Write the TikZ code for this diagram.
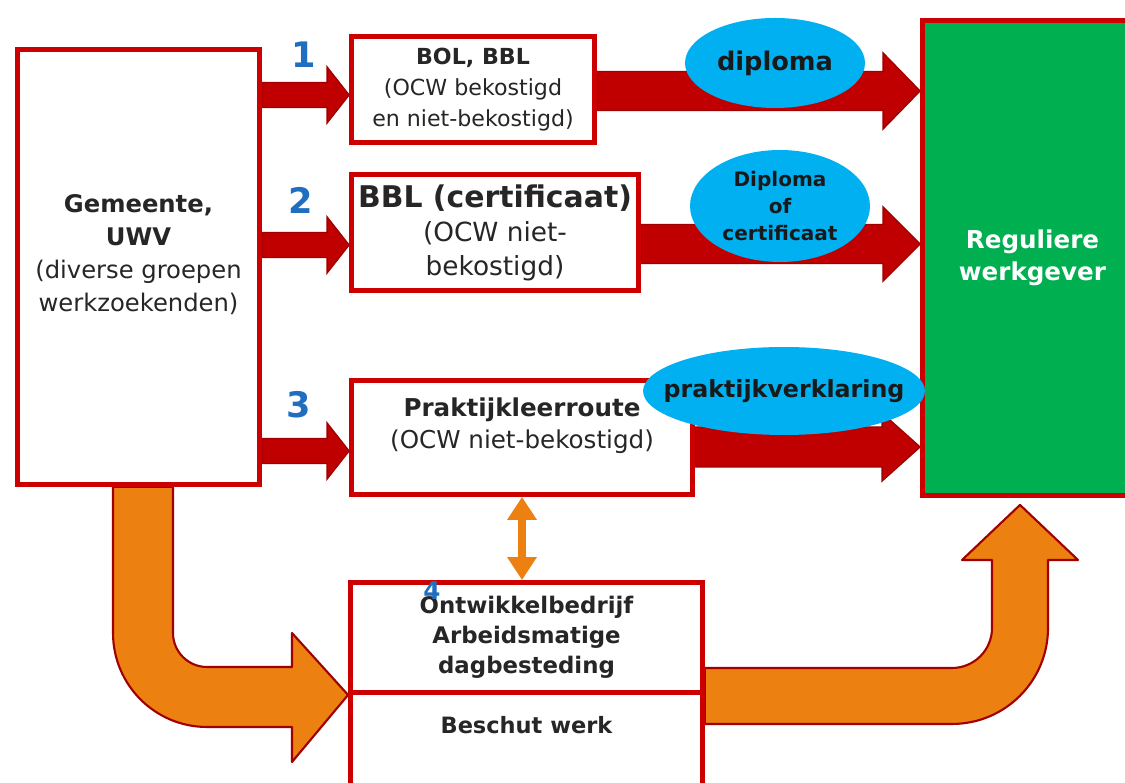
\documentclass[tikz,border=0pt]{standalone}
\usepackage{fontspec}
\setmainfont{DejaVu Sans}
\usepackage{tikz}
\usetikzlibrary{backgrounds}
\usetikzlibrary{calc, positioning, shapes.geometric, arrows.meta}

\definecolor{boxred}{RGB}{204,0,0}
\definecolor{arrowred}{RGB}{192,0,0}
\definecolor{edgered}{RGB}{160,0,0}
\definecolor{regugreen}{RGB}{0,176,80}
\definecolor{ovalblue}{RGB}{0,176,240}
\definecolor{routeorange}{RGB}{236,128,16}
\definecolor{numblue}{RGB}{31,110,192}

\newcommand{\fsz}[2]{\fontsize{#1pt}{#2pt}\selectfont}
% block arrow: start, end, half shaft, half head, head length
\newcommand{\blockarrow}[5]{%
  \filldraw[redarrow] ($(#1)+(0,#3)$) -- ($(#2)+(-#5,#3)$) -- ($(#2)+(-#5,#4)$) -- (#2)
    -- ($(#2)+(-#5,-#4)$) -- ($(#2)+(-#5,-#3)$) -- ($(#1)+(0,-#3)$) -- cycle;}

\begin{document}
\begin{tikzpicture}[x=0.02cm, y=0.02cm,
            boxnode/.style={rectangle, draw=boxred, line width=2.8pt, fill=white, inner sep=0pt, align=center, text=black!85},
            greennode/.style={boxnode, fill=regugreen, text=white},
            ovalnode/.style={ellipse, fill=ovalblue, inner sep=0pt, align=center, text=black!90},
            numnode/.style={text=numblue, font=\bfseries\fsz{20}{22}},
            redarrow/.style={fill=arrowred, draw=edgered, line width=0.8pt},
            orangearrow/.style={fill=routeorange, draw=edgered, line width=1.2pt, line join=round},
            ]
            \useasboundingbox (0,0) rectangle (1125,783);
            \clip (0,0) rectangle (1125,783);

            %Nodes
            \node[boxnode, minimum width=4.84cm, minimum height=8.7cm, text depth=16pt, font=\fsz{13.8}{18.8}] (gemeente) at (138.5,516)
                {\textbf{Gemeente,}\\ \textbf{UWV}\\ (diverse groepen\\ werkzoekenden)};
            \node[boxnode, minimum width=4.86cm, minimum height=2.12cm, font=\fsz{12.6}{17.6}] (bol) at (473,693.5)
                {\textbf{BOL, BBL}\\ (OCW bekostigd\\ en niet-bekostigd)};
            \node[boxnode, minimum width=5.74cm, minimum height=2.32cm, font=\fsz{15}{19.3}] (bbl) at (495,550.5)
                {{\fsz{17}{19.3}\bfseries BBL (certificaat)}\\ (OCW niet-\\ bekostigd)};
            \node[boxnode, minimum width=6.82cm, minimum height=2.28cm, text depth=16pt, font=\fsz{14}{18.2}] (plr) at (522,345.5)
                {\textbf{Praktijkleerroute}\\ (OCW niet-bekostigd)};
            \node[boxnode, minimum width=7.04cm, minimum height=2.2cm, font=\bfseries\fsz{13}{17}] (ontw) at (526.5,145.5)
                {Ontwikkelbedrijf\\ Arbeidsmatige\\ dagbesteding};
            \node[boxnode, minimum width=7.04cm, minimum height=2.2cm, text depth=26pt, font=\bfseries\fsz{12.8}{16}] (beschut) [below=-2.8pt of ontw]
                {Beschut werk};
            \node[greennode, minimum width=4.4cm, minimum height=9.5cm, font=\bfseries\fsz{14}{18.2}] (regulier) at (1032.5,525)
                {Reguliere\\ werkgever};

            %Results
            \node[ovalnode, minimum width=3.6cm, minimum height=1.8cm, font=\bfseries\fsz{14.6}{16}] (diploma) at (775,720) {diploma};
            \node[ovalnode, minimum width=3.6cm, minimum height=2.24cm, font=\bfseries\fsz{11.4}{15.6}] (dipcert) at (780,577) {Diploma\\ of\\ certificaat};
            \node[ovalnode, minimum width=5.64cm, minimum height=1.76cm, inner xsep=-12pt, font=\bfseries\fsz{13.5}{15}] (verklaring) at (784,392) {praktijkverklaring};

            %Route numbers
            \node[numnode] (n1) at (304,728) {1};
            \node[numnode] (n2) at (301,583) {2};
            \node[numnode] (n3) at (299,378) {3};
            \node[numnode, font=\bfseries\fsz{14}{16}] (n4) at (432,192) {4};

            %Arrows
            \begin{scope}[on background layer]
              \blockarrow{gemeente.east |- 0,688}{bol.west |- 0,688}{12.5}{28}{22}
              \blockarrow{gemeente.east |- 0,538}{bbl.west |- 0,538}{12.5}{28}{22}
              \blockarrow{gemeente.east |- 0,332}{plr.west |- 0,332}{12.5}{28}{22}
              \blockarrow{bol.east |- 0,692}{regulier.west |- 0,692}{19.5}{38}{37}
              \blockarrow{bbl.east |- 0,539}{regulier.west |- 0,539}{19.5}{37}{37}
              \blockarrow{plr.east |- 0,336}{regulier.west |- 0,336}{20}{34}{38}

              \filldraw[orangearrow] (gemeente.south -| 173,0) -- (173,150) arc[start angle=180, end angle=270, radius=0.68cm]
                -- (292,116) -- (292,150) -- (ontw.south west) -- (292,21) -- (292,56) -- (207,56)
                arc[start angle=270, end angle=180, radius=1.88cm] -- (gemeente.south -| 113,0) -- cycle;
              \filldraw[orangearrow] (beschut.north east |- 0,115) -- (952,115) arc[start angle=270, end angle=360, radius=0.8cm]
                -- (992,223) -- (962,223) -- ($(regulier.south -| 1020,0)+(0,-7)$) -- (1078,223) -- (1048,223) -- (1048,155)
                arc[start angle=0, end angle=-90, radius=1.92cm] -- (beschut.north east |- 0,59) -- cycle;

              \draw[routeorange, line width=4.5pt, {Triangle[width=16pt,length=13pt]}-{Triangle[width=16pt,length=13pt]}] (plr.south) -- (plr.south |- ontw.north);
            \end{scope}
\end{tikzpicture}
\end{document}
